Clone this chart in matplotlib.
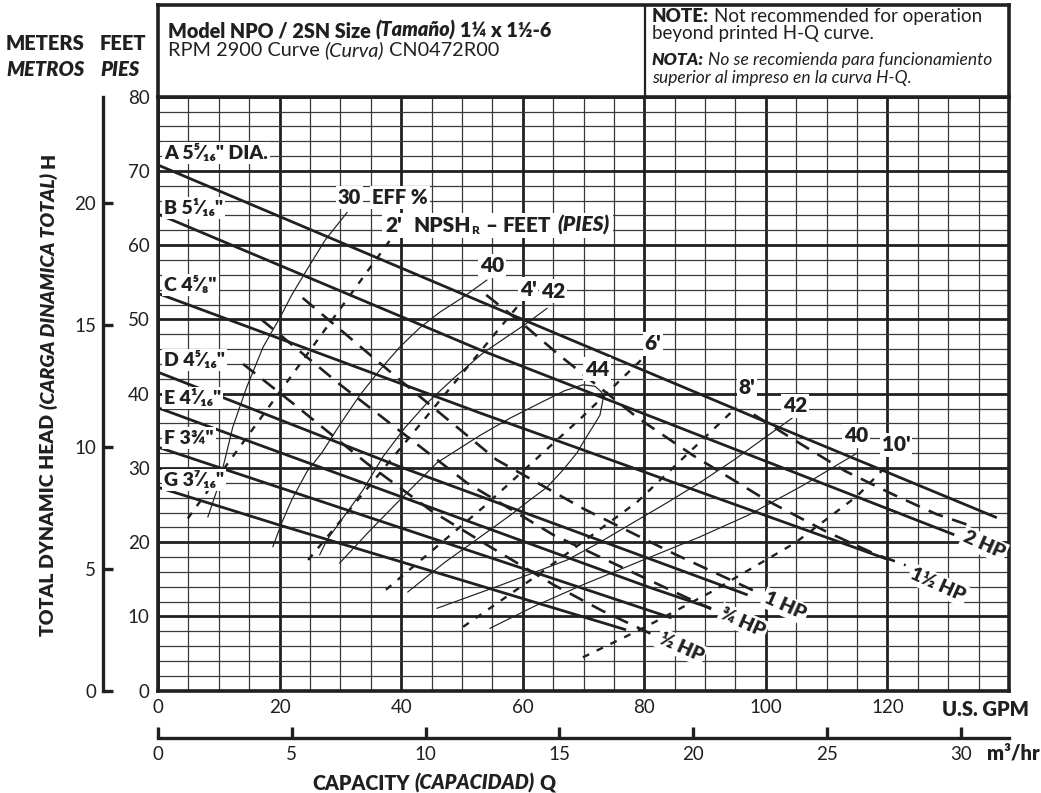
import numpy as np
import matplotlib
matplotlib.use('Agg')
import matplotlib.pyplot as plt
from matplotlib.patches import Rectangle

plt.rcParams['font.family'] = ['Lato', 'DejaVu Sans']
plt.rcParams['lines.scale_dashes'] = False

INK = '#231f20'
HEAVY = 'heavy'
W, H = 1041, 793

# impeller curves, capacity (US GPM) vs head (ft)
qA = [0, 60, 100, 138]
hA = [70.8, 50.0, 36.2, 23.3]
qB = [0, 53, 131]
hB = [64.2, 45.9, 21.0]
qC = [0, 53, 120]
hC = [53.5, 37.4, 17.7]
qD = [0, 40, 97]
hD = [42.9, 30.1, 12.9]
qE = [0, 11.3, 80.9, 91]
hE = [38.1, 34.7, 13.9, 11.1]
qF = [0, 84.5]
hF = [32.8, 9.8]
qG = [0, 20, 77]
hG = [27.4, 22.3, 8.2]
imp_labels = ['A 5\u2075\u2044\u2081\u2086" DIA.', 'B 5\u00b9\u2044\u2081\u2086"', 'C 4\u2075\u2044\u2088"',
              'D 4\u2075\u2044\u2081\u2086"', 'E 4\u00b9\u2044\u2081\u2086"', 'F 3\u00be"', 'G 3\u2077\u2044\u2081\u2086"']

# horsepower lines
q2hp = [98, 105, 113, 121, 128, 133]
h2hp = [37.2, 33.6, 29.6, 26.4, 23.8, 22.4]
q15hp = [54, 60, 66, 79, 88, 100, 110, 118, 123]
h15hp = [53.3, 49.4, 45.2, 36.7, 31.7, 25.7, 21.4, 18.4, 16.9]
q1hp = [23.8, 40, 55.7, 70, 85, 99]
h1hp = [52.9, 41.7, 31.1, 24.5, 18.4, 13.1]
q34hp = [17, 30, 50.8, 65, 80, 91]
h34hp = [50.0, 41.2, 28.0, 21.0, 15.2, 11.0]
q12hp = [14, 22.2, 34.4, 45, 55, 65, 73, 81]
h12hp = [44.0, 38.7, 30.6, 24.2, 19.2, 14.3, 10.8, 7.7]
hp_labels = ['2 HP', '1\u00bd HP', '1 HP', '\u00be HP', '\u00bd HP']

# NPSHr lines (ft)
qn2 = [4.9, 38.2]
hn2 = [23.2, 60.7]
qn4 = [24.7, 60]
hn4 = [17.6, 52.6]
qn6 = [37.5, 53.5, 69.7, 79.8]
hn6 = [13.6, 24.7, 36.8, 44.8]
qn8 = [50.2, 62.5, 78.8, 95.2]
hn8 = [8.6, 15.6, 25.4, 38.2]
qn10 = [69.9, 80, 91, 104.8, 115, 120]
hn10 = [4.5, 8.5, 13.3, 19.9, 26.2, 30.4]

# efficiency contours (%)
qe30 = [31.1, 27.5, 24.5, 22.0, 20.1, 17.3, 14.6, 12.3, 11.0, 9.7, 8.2]
he30 = [64.4, 60.7, 56.7, 53.3, 50.3, 46.3, 40.9, 35.5, 31.1, 27.0, 23.4]
qe40a = [54.1, 50.2, 46.4, 43.1, 39.8, 36.5, 33.2, 29.9, 27.0, 24.5, 22.0, 20.4, 18.9]
he40a = [55.3, 53.0, 51.0, 48.9, 46.3, 43.2, 39.8, 35.8, 32.1, 29.5, 25.7, 22.7, 19.4]
qe42a = [64.0, 60.7, 57.1, 53.5, 48.8, 44.2, 40.6, 37.0, 33.7, 30.8, 27.8, 26.6]
he42a = [51.5, 49.5, 47.5, 45.5, 42.2, 38.7, 35.4, 31.5, 27.0, 23.7, 20.3, 18.3]
qe44 = [29.9, 34.9, 39.8, 45.9, 53.0, 57.9, 63.2, 66.9, 69.9, 71.9, 73.0, 73.2,
        72.7, 71.5, 70.2, 68.9, 66.6, 64.0, 61.2, 58.4, 53.0, 47.2, 41.1]
he44 = [17.2, 21.6, 25.7, 30.7, 34.4, 36.7, 38.9, 40.4, 41.2, 41.0, 40.2, 39.2,
        37.1, 35.5, 33.8, 32.0, 29.7, 27.4, 25.7, 23.9, 20.7, 17.3, 13.3]
qe42b = [104.3, 94.6, 89.1, 83.7, 78.1, 72.7, 67.3, 56.0, 45.9]
he42b = [36.7, 31.0, 28.0, 25.3, 22.6, 20.0, 17.6, 14.1, 11.1]
qe40b = [115, 106, 97, 89.1, 79.8, 70, 62, 54.6]
he40b = [32.0, 27.6, 23.6, 20.7, 17.6, 14.3, 11.4, 8.4]

fig = plt.figure(figsize=(W / 100, H / 100), dpi=100)
def fx(px):
    return px / W
def fy(py):
    return 1 - py / H

# main chart
ax = fig.add_axes([fx(158), fy(690.7), fx(1009) - fx(158), fy(96.7) - fy(690.7)])
ax.set_xlim(0, 140)
ax.set_ylim(0, 80)
ax.set_xticks(np.arange(0, 121, 20))
ax.set_xticks(np.arange(0, 141, 5), minor=True)
ax.set_yticks(np.arange(0, 81, 10))
ax.set_yticks(np.arange(0, 81, 2), minor=True)
ax.grid(which='minor', color='#3a3a3a', lw=0.9)
ax.grid(which='major', color=INK, lw=2.0)
ax.tick_params(which='both', length=0, labelsize=13.5, colors=INK)
ax.tick_params(axis='x', pad=6)
ax.tick_params(axis='y', pad=6)
ax.set_axisbelow(True)
for s in ax.spines.values():
    s.set_linewidth(2.6)
    s.set_color(INK)

for q, h in [(qA, hA), (qB, hB), (qC, hC), (qD, hD), (qE, hE), (qF, hF), (qG, hG)]:
    ax.plot(q, h, color=INK, lw=2.0, solid_capstyle='butt')
for q, h in [(q2hp, h2hp), (q15hp, h15hp), (q1hp, h1hp), (q34hp, h34hp), (q12hp, h12hp)]:
    ax.plot(q, h, color=INK, lw=1.9, dashes=(11, 7))
for q, h in [(qn2, hn2), (qn4, hn4), (qn6, hn6), (qn8, hn8), (qn10, hn10)]:
    ax.plot(q, h, color=INK, lw=1.7, dashes=(5, 6))
for q, h in [(qe30, he30), (qe40a, he40a), (qe42a, he42a), (qe44, he44), (qe42b, he42b), (qe40b, he40b)]:
    ax.plot(q, h, color=INK, lw=0.85)

# meters scale on the left
axm = fig.add_axes([fx(103), fy(690.7), 0.02, fy(96.7) - fy(690.7)])
axm.set_ylim(0, 80 * 0.3048)
axm.set_yticks([0, 5, 10, 15, 20])
axm.set_xticks([])
axm.patch.set_alpha(0)
for k in ['top', 'right', 'bottom']:
    axm.spines[k].set_visible(False)
axm.spines['left'].set_linewidth(2.4)
axm.spines['left'].set_color(INK)
axm.tick_params(axis='y', direction='in', length=7, width=2.4, labelsize=13.5, pad=5, colors=INK)

# m3/hr scale at the bottom
axc = fig.add_axes([fx(158), fy(738), fx(1009) - fx(158), 0.02])
axc.set_xlim(0, 140 / 4.4029)
axc.set_xticks([0, 5, 10, 15, 20, 25, 30])
axc.set_yticks([])
axc.patch.set_alpha(0)
for k in ['top', 'right', 'left']:
    axc.spines[k].set_visible(False)
axc.spines['bottom'].set_linewidth(2.4)
axc.spines['bottom'].set_color(INK)
axc.tick_params(axis='x', direction='in', length=8, width=2.4, labelsize=13.5, pad=6, colors=INK)

# header box
axh = fig.add_axes([fx(158), fy(96.7), fx(1009) - fx(158), fy(5) - fy(96.7)])
axh.set_xlim(0, 1)
axh.set_ylim(0, 1)
axh.set_xticks([])
axh.set_yticks([])
for s in axh.spines.values():
    s.set_linewidth(2.6)
    s.set_color(INK)
axh.axvline((645 - 158) / (1009 - 158), color=INK, lw=1.6)

rend = fig.canvas.get_renderer()
WB = dict(facecolor='white', edgecolor='none', pad=1.5)

def put(px, py, s, size=13, weight=HEAVY, style='normal', **kw):
    kw.setdefault('va', 'baseline')
    kw.setdefault('ha', 'left')
    return fig.text(fx(px), fy(py), s, fontsize=size, fontweight=weight, fontstyle=style,
                    color=INK, **kw)

def runs(px, py, parts, size, box=False, gap=0.34):
    # parts: (text, weight, style[, size, dy]); ' ' adds a word gap
    x = px
    boxes = []
    for p in parts:
        s = p[0]
        if s == ' ':
            x += size * gap
            continue
        sz = p[3] if len(p) > 3 else size
        dy = p[4] if len(p) > 4 else 0
        t = put(x, py + dy, s, size=sz, weight=p[1], style=p[2])
        bb = t.get_window_extent(rend)
        boxes.append(bb)
        x += bb.width
    if box:
        x0 = min(b.x0 for b in boxes) - 3
        x1 = max(b.x1 for b in boxes) + 3
        y0 = min(b.y0 for b in boxes) - 2
        y1 = max(b.y1 for b in boxes) + 2
        fig.add_artist(Rectangle((x0 / W, y0 / H), (x1 - x0) / W, (y1 - y0) / H,
                                 transform=fig.transFigure, facecolor='white', edgecolor='none', zorder=2.5))
    return x

# header texts
runs(168, 37, [('Model NPO / 2SN Size', HEAVY, 'normal'), (' ',), ('(Tama\u00f1o)', HEAVY, 'italic'),
               (' ',), ('1\u00bc x 1\u00bd-6', HEAVY, 'normal')], 14.2)
runs(168, 56, [('RPM 2900 Curve', 'normal', 'normal'), (' ',), ('(Curva)', 'normal', 'italic'),
               (' ',), ('CN0472R00', 'normal', 'normal')], 14.3)
runs(652, 22, [('NOTE:', HEAVY, 'normal'), (' ',), ('Not recommended for operation', 'normal', 'normal')], 13.5)
put(652, 39, 'beyond printed H-Q curve.', size=13.5, weight='normal')
runs(652, 65, [('NOTA:', HEAVY, 'italic'), (' ',), ('No se recomienda para funcionamiento', 'normal', 'italic')], 12.5)
put(652, 83, 'superior al impreso en la curva H-Q.', size=12.5, weight='normal', style='italic')

put(6, 50, 'METERS', size=14.5)
put(100, 50, 'FEET', size=14.5)
put(6, 76, 'METROS', size=14.5, style='italic')
put(100, 76, 'PIES', size=14.5, style='italic')

# axis titles
put(942, 716, 'U.S. GPM', size=14.5)
put(987, 760, 'm\u00b3/hr', size=14.5)
runs(312, 790, [('CAPACITY', HEAVY, 'normal'), (' ',), ('(CAPACIDAD)', HEAVY, 'italic'),
                (' ',), ('Q', HEAVY, 'normal')], 14.2)

ylab = [('TOTAL DYNAMIC HEAD', HEAVY, 'normal'), (' ',), ('(CARGA DINAMICA TOTAL)', HEAVY, 'italic'),
        (' ',), ('H', HEAVY, 'normal')]
y = 636
for p in ylab:
    if p[0] == ' ':
        y -= 14 * 0.34
        continue
    t = fig.text(fx(49), fy(y), p[0], fontsize=14, fontweight=p[1], fontstyle=p[2], color=INK,
                 rotation=90, rotation_mode='anchor', ha='left', va='center')
    y -= t.get_window_extent(rend).height

# impeller labels
for lab, py in zip(imp_labels, [153, 208, 285, 360, 398, 438, 480]):
    put(164, py, lab, size=14, va='center', bbox=WB)

# efficiency / NPSH labels
put(338, 204, '30', size=14.5, bbox=WB)
put(372, 204, 'EFF %', size=14.5, bbox=WB)
runs(385, 232, [("2'", HEAVY, 'normal'), (' ',), (' ',), ('NPSH', HEAVY, 'normal'), ('R', HEAVY, 'normal', 8.5, 2),
                (' ',), ('\u2013', HEAVY, 'normal'), (' ',), ('FEET', HEAVY, 'normal'), (' ',),
                ('(PIES)', HEAVY, 'italic')], 15, box=True, gap=0.4)
for s, px, py in [('40', 492, 266), ("4'", 528, 289), ('42', 553, 291), ("6'", 653, 344), ('44', 597, 369),
                  ("8'", 747, 388), ('42', 795, 406), ('40', 856, 436), ("10'", 896, 445)]:
    put(px, py, s, size=15, ha='center', va='center', bbox=WB)

# horsepower labels
for lab, px, py in zip(hp_labels, [984, 938, 785, 743, 681], [545, 585, 606, 622, 647]):
    put(px, py, lab, size=14, ha='center', va='center', rotation=-24, rotation_mode='anchor', bbox=WB)

fig.savefig('out.png', dpi=100)
